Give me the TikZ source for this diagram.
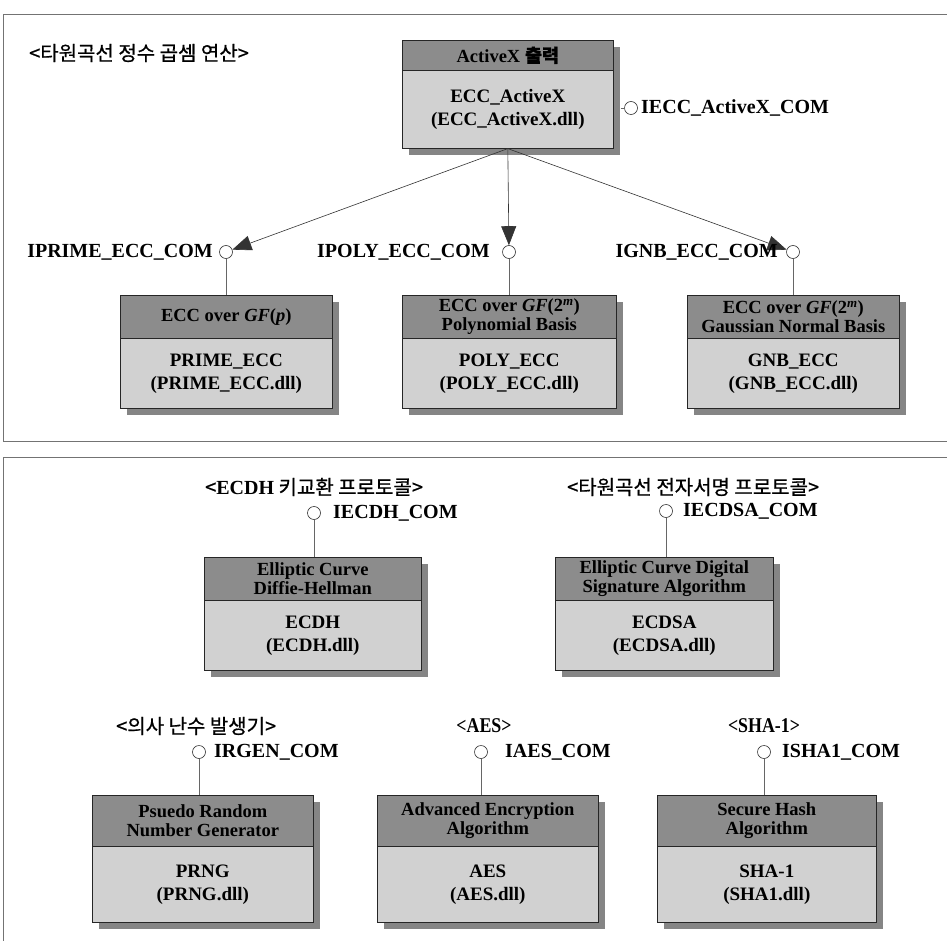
\documentclass[tikz,border=0pt]{standalone}
\usepackage{fontspec}
\setmainfont{Liberation Serif}
\newfontfamily\kfont[FakeBold=0.7]{Noto Sans CJK KR}
\newfontfamily\condserif[FakeStretch=0.85]{Liberation Serif}
\usetikzlibrary{arrows.meta}
\tikzset{
 frame/.style={draw=black!55, line width=0.8pt},
 shadowfill/.style={fill=black!48},
 hdrbox/.style={draw=black!85, line width=0.6pt, fill=black!45, inner sep=0pt, align=center, font=\fontsize{18.5}{19.5}\selectfont\bfseries},
 bodybox/.style={draw=black!85, line width=0.6pt, fill=black!18, inner sep=0pt, align=center, font=\fontsize{19}{23}\selectfont\bfseries},
 iface/.style={circle, draw=black!80, line width=0.6pt, fill=white, minimum size=13pt, inner sep=0pt},
 conn/.style={draw=black!60, line width=0.6pt},
 dep/.style={draw=black!80, line width=0.6pt, -{Triangle[length=19pt,width=15pt]}},
 lbl/.style={font=\fontsize{20}{20}\selectfont\bfseries, inner sep=0pt},
 ktitle/.style={font=\fontsize{20}{20}\selectfont\kfont, inner sep=0pt},
 etitle/.style={font=\fontsize{21}{21}\selectfont\condserif\bfseries, inner sep=0pt},
}
\newcommand\compbox[8]{%
 \fill[shadowfill] (#2+7,#4+7) rectangle (#3+7,#6+7);
 \node[bodybox, anchor=north west, minimum width={(#3-#2)*1pt}, minimum height={(#6-#5)*1pt}] (#1b) at (#2,#5) {#8};
 \node[hdrbox, anchor=north west, minimum width={(#3-#2)*1pt}, minimum height={(#5-#4)*1pt}] (#1) at (#2,#4) {#7};
}
\begin{document}
\begin{tikzpicture}[x=1pt, y=-1pt]
\useasboundingbox[fill=white] (0,0) rectangle (947,941);
% panel frames
\draw[frame] (947,14) -- (3,14) -- (3,441) -- (947,441);
\draw[frame] (947,457) -- (3,457) -- (3,941);

% ---- top panel ----
\node[ktitle, anchor=west] (t1) at (29,53) {<타원곡선 정수 곱셈 연산>};

\compbox{A}{402}{613}{40}{70}{148}{ActiveX {\kfont 출력}}{ECC\_ActiveX\\(ECC\_ActiveX.dll)}
\compbox{P}{120}{332}{295}{338}{408}{ECC over {\itshape GF}({\itshape p})}{PRIME\_ECC\\(PRIME\_ECC.dll)}
\compbox{Y}{402}{616}{295}{338}{408}{ECC over {\itshape GF}(2\textsuperscript{\itshape m})\\Polynomial Basis}{POLY\_ECC\\(POLY\_ECC.dll)}
\compbox{G}{687}{899}{295}{338}{408}{ECC over {\itshape GF}(2\textsuperscript{\itshape m})\\Gaussian Normal Basis}{GNB\_ECC\\(GNB\_ECC.dll)}

\node[iface] (cA) at (631,108) {};
\node[iface] (cP) at (226,252) {};
\node[iface] (cY) at (509,252) {};
\node[iface] (cG) at (793,252) {};

\draw[conn] ([xshift=7pt]Ab.east |- cA) -- (cA);
\draw[conn] (cP) -- (cP |- P.north);
\draw[conn] (cY) -- (cY |- Y.north);
\draw[conn] (cG) -- (cG |- G.north);

\draw[dep] (Ab.south) -- (cP);
\draw[dep] (Ab.south) -- (cY);
\draw[dep] (Ab.south) -- (cG);

\node[lbl, anchor=west] (lA) at (641,108) {IECC\_ActiveX\_COM};
\node[lbl, anchor=east] (lP) at (213,252) {IPRIME\_ECC\_COM};
\node[lbl, anchor=east] (lY) at (490,252) {IPOLY\_ECC\_COM};
\node[lbl, anchor=east] (lG) at (778,252) {IGNB\_ECC\_COM};

% ---- bottom panel ----
\node[ktitle, anchor=west] (t2) at (205,487) {<{\fontspec{Liberation Serif}\bfseries ECDH} 키교환 프로토콜>};
\node[ktitle, anchor=west] (t3) at (567,487) {<타원곡선 전자서명 프로토콜>};
\node[ktitle, anchor=west] (t4) at (116,726) {<의사 난수 발생기>};
\node[etitle] (t5) at (484,726) {<AES>};
\node[etitle] (t6) at (764,726) {<SHA-1>};

\compbox{D}{204}{421}{557}{600}{670}{Elliptic Curve\\Diffie-Hellman}{ECDH\\(ECDH.dll)}
\compbox{S}{555}{773}{557}{600}{670}{Elliptic Curve Digital\\Signature Algorithm}{ECDSA\\(ECDSA.dll)}
\compbox{R}{92}{313}{795}{846}{922}{Psuedo Random\\Number Generator}{PRNG\\(PRNG.dll)}
\compbox{E}{377}{598}{795}{846}{922}{Advanced Encryption\\Algorithm}{AES\\(AES.dll)}
\compbox{H}{657}{876}{795}{846}{922}{Secure Hash\\Algorithm}{SHA-1\\(SHA1.dll)}

\node[iface] (cD) at (314,513) {};
\node[iface] (cS) at (666,511) {};
\node[iface] (cR) at (199,752) {};
\node[iface] (cE) at (481,752) {};
\node[iface] (cH) at (764,752) {};

\draw[conn] (cD) -- (cD |- D.north);
\draw[conn] (cS) -- (cS |- S.north);
\draw[conn] (cR) -- (cR |- R.north);
\draw[conn] (cE) -- (cE |- E.north);
\draw[conn] (cH) -- (cH |- H.north);

\node[lbl, anchor=west] (lD) at (333,513) {IECDH\_COM};
\node[lbl, anchor=west] (lS) at (683,511) {IECDSA\_COM};
\node[lbl, anchor=west] (lR) at (214,752) {IRGEN\_COM};
\node[lbl, anchor=west] (lE) at (505,752) {IAES\_COM};
\node[lbl, anchor=west] (lH) at (782,752) {ISHA1\_COM};
\end{tikzpicture}
\end{document}
